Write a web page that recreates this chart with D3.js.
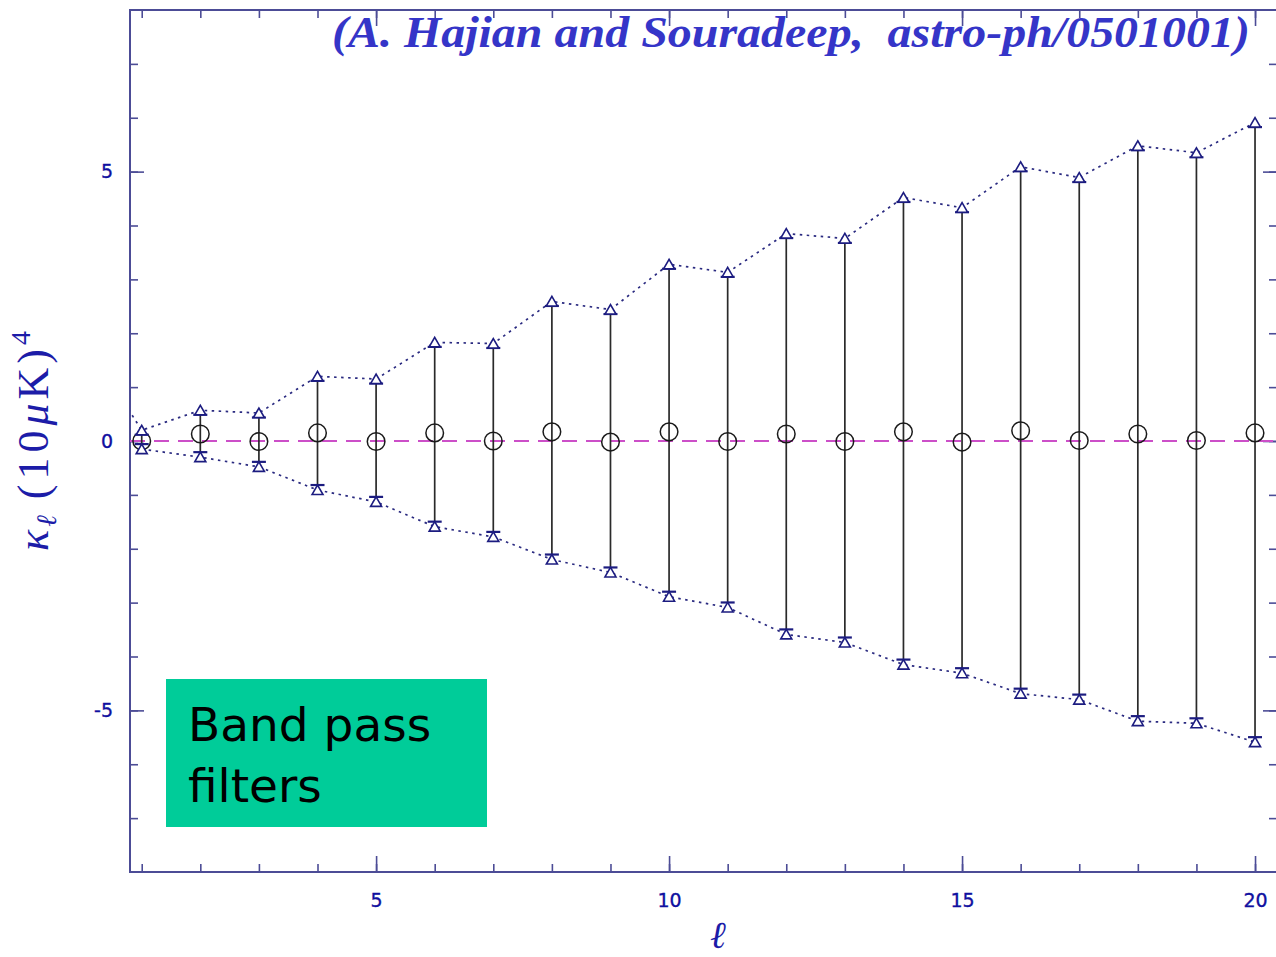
<!doctype html>
<html>
<head>
<meta charset="utf-8">
<title>Band pass filters</title>
<style>
  body { margin:0; background:#fff; }
  svg { display:block; }
  .axis line { stroke:#4c4c96; stroke-width:1.6px; }
  .axis text { font-family:"DejaVu Sans", Verdana, sans-serif; font-size:19px; fill:#1010a0; stroke:#1010a0; stroke-width:0.35px; }
</style>
<script src="https://cdn.jsdelivr.net/npm/d3@7"></script>
</head>
<body>
<svg id="chart" width="1276" height="957"></svg>
<script>
// data
var ells   = [1,2,3,4,5,6,7,8,9,10,11,12,13,14,15,16,17,18,19,20]
var upper  = [0.20,0.57,0.52,1.20,1.15,1.83,1.81,2.59,2.44,3.28,3.13,3.85,3.76,4.52,4.33,5.09,4.89,5.48,5.35,5.91]
var lower  = [-0.15,-0.30,-0.48,-0.91,-1.13,-1.59,-1.78,-2.20,-2.44,-2.89,-3.09,-3.59,-3.74,-4.15,-4.31,-4.69,-4.80,-5.20,-5.24,-5.59]
var center = [0.00,0.13,-0.01,0.15,-0.01,0.15,0.00,0.17,-0.02,0.17,-0.01,0.13,-0.01,0.17,-0.02,0.19,0.01,0.13,0.01,0.15]
// the upper dotted curve comes in from the left edge
var leadEll = 0, leadUpper = 1.9

var xMinor = [1,2,3,4,5,6,7,8,9,10,11,12,13,14,15,16,17,18,19,20]
var xMajor = [5,10,15,20]
var yMinor = [-7,-6,-5,-4,-3,-2,-1,0,1,2,3,4,5,6,7]
var yMajor = [-5,0,5]

var L = 130, T = 10, R = 1277, B = 872

var svg = d3.select("#chart")
var x = d3.scaleLinear().domain([0.8, 20.375]).range([L, R])
var y = d3.scaleLinear().domain([-8, 8]).range([B, T])
var fmt = function(d){ return String(d) }   // plain hyphen for -5

svg.append("clipPath").attr("id","plot")
   .append("rect").attr("x",L).attr("y",T).attr("width",R-L).attr("height",B-T)

// axes: minor + major ticks on all four sides
function ax(gen, tr, vals, size, labels, pad) {
  var g = svg.append("g").attr("class","axis").attr("transform",tr)
     .call(gen.tickValues(vals).tickSize(size).tickPadding(pad || 3)
              .tickFormat(labels ? fmt : ""))
  g.select(".domain").remove()
  return g
}
ax(d3.axisBottom(x), "translate(0,"+B+")", xMinor, -8, false)
ax(d3.axisBottom(x), "translate(0,"+B+")", xMajor, -16, true, 22)
ax(d3.axisTop(x), "translate(0,"+T+")", xMinor, -8, false)
ax(d3.axisTop(x), "translate(0,"+T+")", xMajor, -16, false)
ax(d3.axisLeft(y), "translate("+L+",0)", yMinor, -8, false)
ax(d3.axisLeft(y), "translate("+L+",0)", yMajor, -14, true, 17)
ax(d3.axisRight(y), "translate("+R+",0)", yMinor, -8, false)
ax(d3.axisRight(y), "translate("+R+",0)", yMajor, -14, false)

svg.append("rect").attr("x",L).attr("y",T).attr("width",R-L).attr("height",B-T)
   .attr("fill","none").attr("stroke","#4c4c96").attr("stroke-width",2)

var plot = svg.append("g").attr("clip-path","url(#plot)")

// zero line
plot.append("line")
    .attr("x1",L).attr("x2",R).attr("y1",y(0)).attr("y2",y(0))
    .attr("stroke","#cc4fc8").attr("stroke-width",2).attr("stroke-dasharray","15,9")

// dotted envelopes
var line = d3.line().x(function(d){return x(d[0])}).y(function(d){return y(d[1])})
var upPts = [[leadEll, leadUpper]].concat(ells.map(function(e,i){return [e, upper[i]]}))
var loPts = ells.map(function(e,i){return [e, lower[i]]})
;[upPts, loPts].forEach(function(p){
  plot.append("path").attr("d", line(p)).attr("fill","none")
      .attr("stroke","#2a2a80").attr("stroke-width",1.7).attr("stroke-dasharray","2.5,4.5")
})

// error bars
plot.selectAll(".bar").data(ells).enter().append("line")
    .attr("x1",function(d){return x(d)}).attr("x2",function(d){return x(d)})
    .attr("y1",function(d,i){return y(upper[i])+4.5})
    .attr("y2",function(d,i){return y(lower[i])-5})
    .attr("stroke","#2a2a2a").attr("stroke-width",1.7)

// centre values
plot.selectAll(".pt").data(ells).enter().append("circle")
    .attr("cx",function(d){return x(d)}).attr("cy",function(d,i){return y(center[i])})
    .attr("r",8.8).attr("fill","none").attr("stroke","#1a1a1a").attr("stroke-width",1.5)

// triangles with caps
function tri(cx, cy) {
  return "M"+(cx-5.5)+","+(cy+4.5)+"L"+cx+","+(cy-5)+"L"+(cx+5.5)+","+(cy+4.5)+"Z"
}
ells.forEach(function(e,i){
  var cx = x(e)
  var yu = y(upper[i]), yl = y(lower[i])
  plot.append("line").attr("x1",cx-7).attr("x2",cx+7).attr("y1",yu+4.5).attr("y2",yu+4.5)
      .attr("stroke","#1c1c80").attr("stroke-width",2.2)
  plot.append("line").attr("x1",cx-7).attr("x2",cx+7).attr("y1",yl-5).attr("y2",yl-5)
      .attr("stroke","#1c1c80").attr("stroke-width",2.2)
  ;[yu, yl].forEach(function(cy){
    plot.append("path").attr("d",tri(cx,cy)).attr("fill","#fff")
        .attr("stroke","#1c1c80").attr("stroke-width",1.6)
  })
})

// axis titles
var yl = svg.append("text")
  .attr("transform","translate(48,441) rotate(-90)")
  .attr("text-anchor","middle")
  .attr("font-family","'Liberation Serif', 'DejaVu Serif', serif")
  .attr("font-size",44).attr("fill","#1c1ca8")
yl.append("tspan").attr("font-style","italic").text("κ")
yl.append("tspan").attr("font-style","italic").attr("font-size",28).attr("dy",8).attr("dx",3).text("ℓ")
yl.append("tspan").attr("dy",-8).attr("dx",16).attr("letter-spacing",5).text("(10")
yl.append("tspan").attr("font-style","italic").attr("letter-spacing",4).text("μ")
yl.append("tspan").attr("letter-spacing",4).text("K)")
yl.append("tspan").attr("font-size",28).attr("dy",-18).text("4")

svg.append("text").attr("x",718).attr("y",948).attr("text-anchor","middle")
   .attr("font-family","'Liberation Serif', 'DejaVu Serif', serif").attr("font-style","italic")
   .attr("font-size",38).attr("fill","#1c1ca8").text("ℓ")

// citation
svg.append("text").attr("x",332).attr("y",47)
   .attr("textLength",918).attr("lengthAdjust","spacingAndGlyphs")
   .style("white-space","pre")
   .attr("font-family","'Liberation Serif', serif").attr("font-style","italic").attr("font-weight","bold")
   .attr("font-size",45).attr("fill","#3535c8")
   .text("(A. Hajian and Souradeep,  astro-ph/0501001)")

// green note box
svg.append("rect").attr("x",166).attr("y",679).attr("width",321).attr("height",148).attr("fill","#00cc99")
svg.append("text").attr("x",188).attr("y",741)
   .attr("font-family","'DejaVu Sans', sans-serif").attr("font-size",47).attr("fill","#000")
   .selectAll("tspan").data(["Band pass","filters"]).enter().append("tspan")
   .attr("x",188).attr("dy",function(d,i){return i ? 61 : 0}).text(function(d){return d})
</script>
</body>
</html>
